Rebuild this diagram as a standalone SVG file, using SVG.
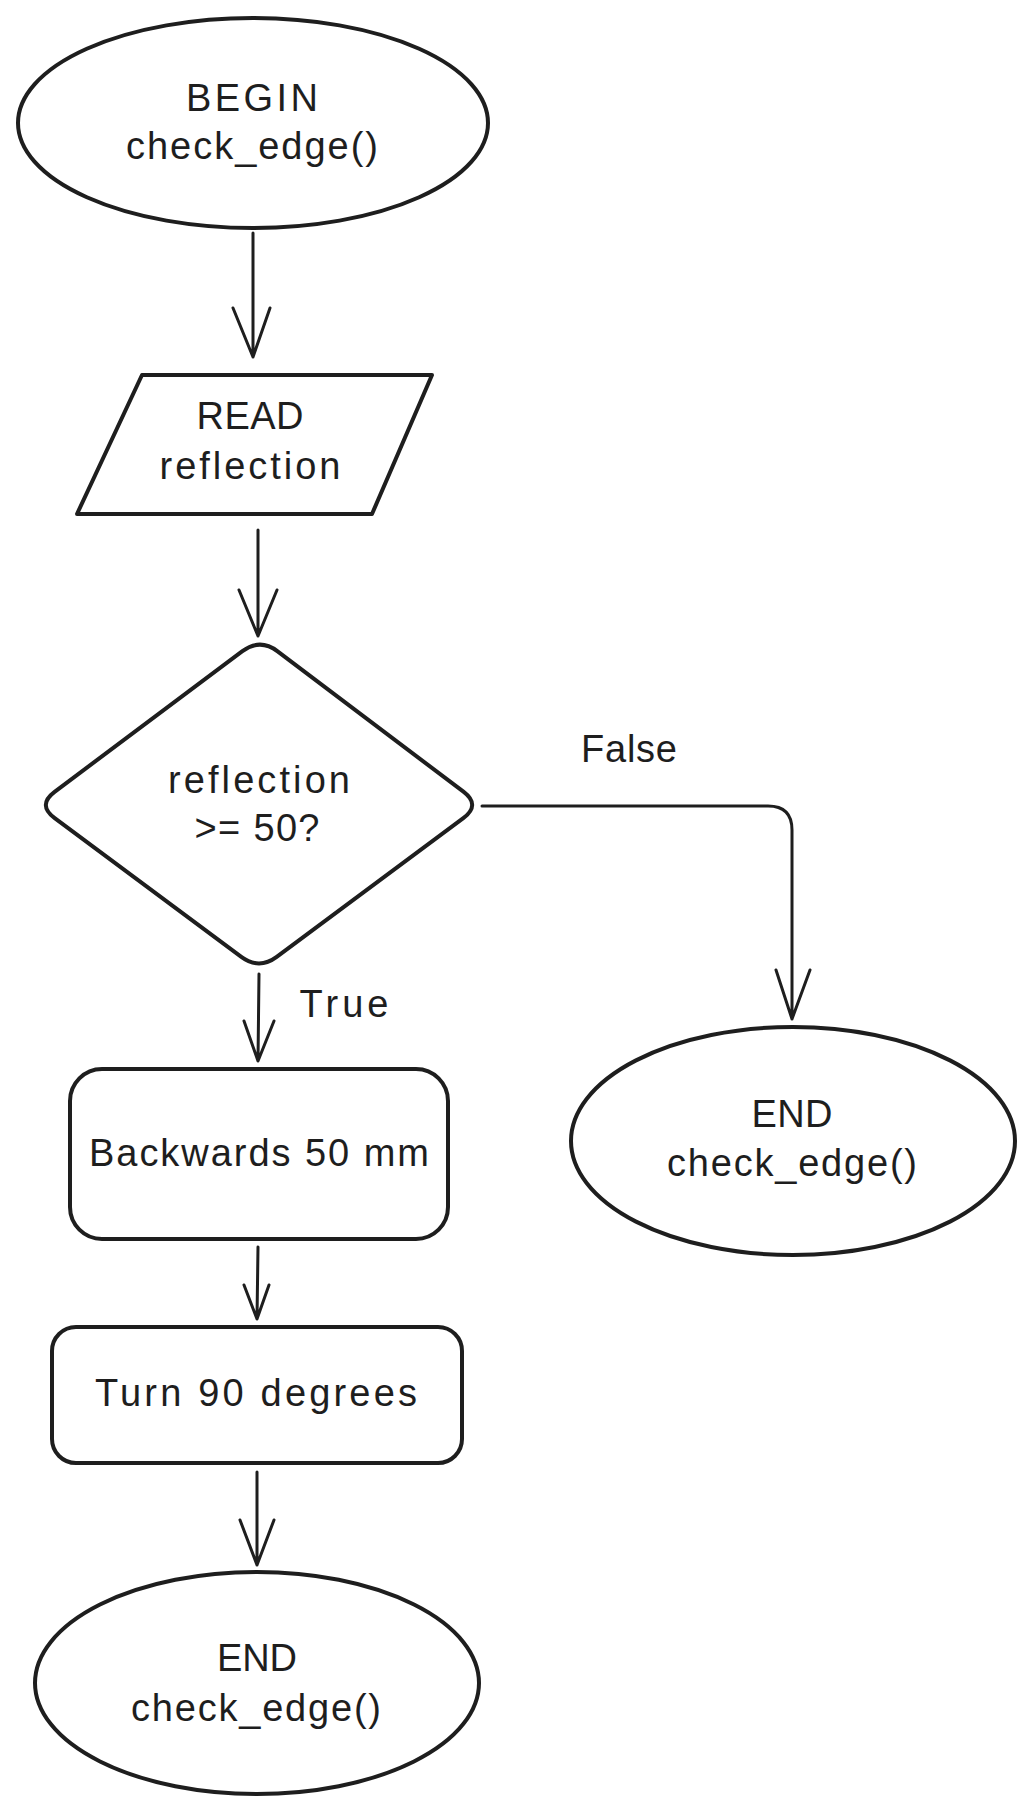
<svg xmlns="http://www.w3.org/2000/svg" width="1035" height="1819" viewBox="0 0 1035 1819">
<style>
.shape{fill:none;stroke:#1e1e1e;stroke-width:4;stroke-linejoin:round;stroke-linecap:round}
.conn{fill:none;stroke:#1e1e1e;stroke-width:3;stroke-linejoin:round;stroke-linecap:round}
.t{font-family:"Liberation Sans",Arial,sans-serif;font-size:38px;fill:#1e1e1e;text-anchor:middle}
</style>
<rect width="1035" height="1819" fill="#ffffff"/>
<g id="connectors">
  <path class="conn" d="M253 233 L253 357 M233 308 L253 357 L270 308"/>
  <path class="conn" d="M258 530 L258 636 M239 590 L258 636 L277 590"/>
  <path class="conn" d="M482 806 L768 806 Q792 806 792 830 L792 1019 M776 970 L792 1019 L810 970"/>
  <path class="conn" d="M259 974 L258 1061 M244 1021 L258 1061 L274 1021"/>
  <path class="conn" d="M258 1247 L257 1319 M244 1285 L257 1319 L269 1285"/>
  <path class="conn" d="M257 1472 L257 1565 M240 1520 L257 1565 L274 1520"/>
  <text class="t" x="629" y="762" textLength="96" lengthAdjust="spacing">False</text>
  <text class="t" x="344" y="1017" textLength="89" lengthAdjust="spacing">True</text>
</g>
<g id="begin">
  <ellipse class="shape" cx="253" cy="123" rx="235" ry="105"/>
  <text class="t" x="252" y="111" textLength="132" lengthAdjust="spacing">BEGIN</text>
  <text class="t" x="252" y="159" textLength="252" lengthAdjust="spacing">check_edge()</text>
</g>
<g id="read">
  <path class="shape" d="M142 375 L432 375 L372 514 L77 514 Z"/>
  <text class="t" x="250" y="429" textLength="107" lengthAdjust="spacing">READ</text>
  <text class="t" x="250" y="479" textLength="181" lengthAdjust="spacing">reflection</text>
</g>
<g id="decision">
  <path class="shape" d="M277.6 651.3 L463.4 791.7 Q481 805 463.3 818.1 L276.7 956.9 Q259 970 241.3 956.9 L54.7 818.1 Q37 805 54.6 791.8 L242.4 651.2 Q260 638 277.6 651.3 Z"/>
  <text class="t" x="259" y="793" textLength="182" lengthAdjust="spacing">reflection</text>
  <text class="t" x="257" y="841" textLength="125" lengthAdjust="spacing">&gt;= 50?</text>
</g>
<g id="backwards">
  <rect class="shape" x="70" y="1069" width="378" height="170" rx="32" ry="32"/>
  <text class="t" x="259" y="1166" textLength="340" lengthAdjust="spacing">Backwards 50 mm</text>
</g>
<g id="turn">
  <rect class="shape" x="52" y="1327" width="410" height="136" rx="24" ry="24"/>
  <text class="t" x="256" y="1406" textLength="322" lengthAdjust="spacing">Turn 90 degrees</text>
</g>
<g id="end-false">
  <ellipse class="shape" cx="793" cy="1141" rx="222" ry="114"/>
  <text class="t" x="792" y="1127" textLength="81" lengthAdjust="spacing">END</text>
  <text class="t" x="792" y="1176" textLength="250" lengthAdjust="spacing">check_edge()</text>
</g>
<g id="end-true">
  <ellipse class="shape" cx="257" cy="1683" rx="222" ry="111"/>
  <text class="t" x="257" y="1671" textLength="80" lengthAdjust="spacing">END</text>
  <text class="t" x="256" y="1721" textLength="250" lengthAdjust="spacing">check_edge()</text>
</g>
</svg>
